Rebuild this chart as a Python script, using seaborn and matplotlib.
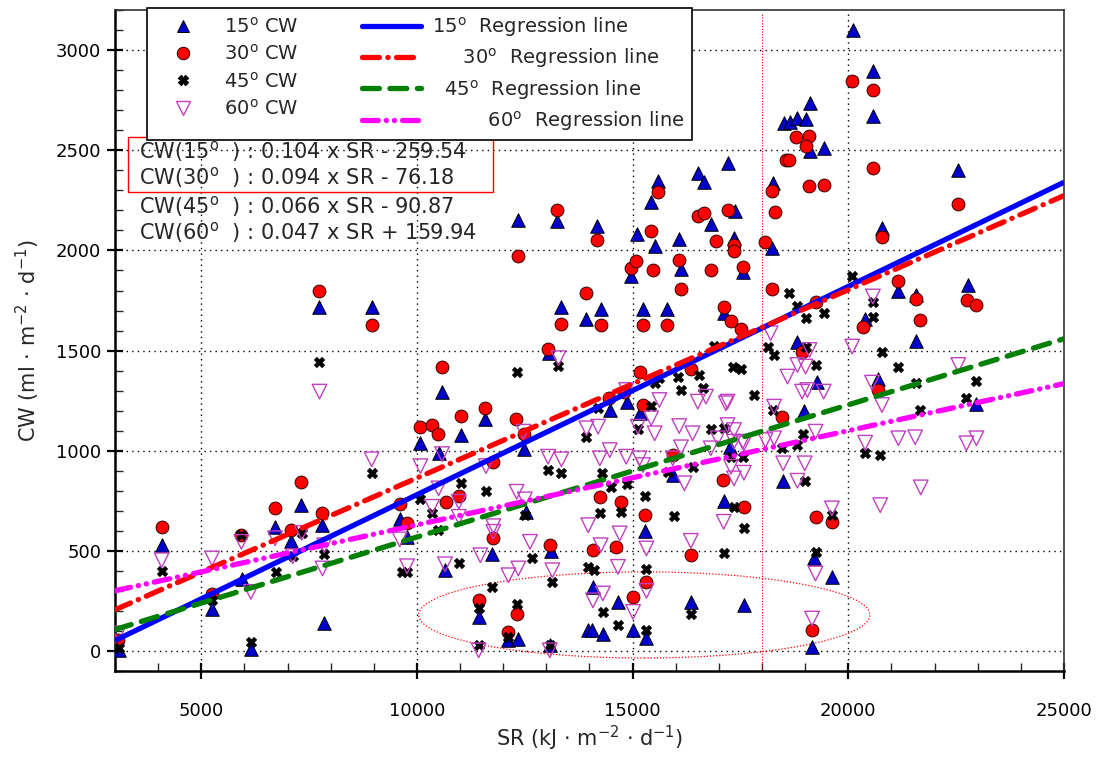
import matplotlib
matplotlib.use("Agg")
import matplotlib.pyplot as plt
from matplotlib.patches import Rectangle, Ellipse
from matplotlib.lines import Line2D
import seaborn as sns
import pandas as pd
import numpy as np

# ---------------- data ----------------
cw15_x = [3100, 4080, 5250, 5950, 6150, 6710, 7090, 7310, 7730, 7810, 7850, 8950, 9600, 9770, 10080, 10500,
          10580, 10650, 11020, 11430, 11580, 11740, 12120, 12350, 12340, 12470, 12530, 13050, 13080, 13100,
          13250, 13350, 13930, 13970, 14050, 14080, 14180, 14260, 14310, 14470, 14650, 14880, 14970, 15010,
          15110, 15160, 15240, 15290, 15320, 15430, 15510, 15580, 15800, 15930, 16080, 16110, 16350, 16510,
          16660, 16810, 17110, 17120, 17200, 17250, 17350, 17370, 17550, 17580, 18240, 18260, 18490, 18510,
          18650, 18820, 19010, 19110, 19110, 19430, 18970, 19280, 18820, 19200, 19160, 19620, 20120, 20390,
          20570, 20570, 20700, 20780, 21160, 21560, 21560, 22550, 22780, 22960]
cw15_y = [5, 530, 210, 360, 12, 620, 550, 730, 1720, 630, 140, 1720, 660, 570, 1040, 990,
          1295, 405, 1080, 170, 1160, 485, 55, 60, 2150, 1010, 695, 1490, 28, 500,
          2145, 1720, 1660, 105, 105, 320, 2120, 1710, 85, 1205, 245, 1245, 1870, 105,
          2080, 1190, 1710, 600, 65, 2240, 2020, 2345, 1710, 880, 2055, 1905, 245, 2385,
          2340, 2130, 750, 1690, 2435, 1020, 2060, 2195, 1890, 230, 2010, 2335, 850, 2635,
          2640, 2660, 2655, 2735, 2495, 2510, 1200, 1345, 1545, 462, 20, 370, 3100, 1660,
          2895, 2670, 1360, 2110, 1800, 1780, 1550, 2400, 1830, 1235]

cw30_x = [3080, 4080, 5250, 5930, 6710, 7090, 7310, 7730, 7810, 8950, 9600, 9770, 10080, 10350, 10490,
          10580, 10680, 10970, 11020, 11430, 11580, 11770, 11770, 12100, 12290, 12310, 12340, 12470, 13040,
          13090, 13250, 13350, 13930, 14080, 14180, 14240, 14260, 14450, 14620, 14720, 14810, 14970, 15010,
          15080, 15160, 15240, 15240, 15290, 15320, 15430, 15470, 15580, 15800, 15930, 16080, 16110, 16350,
          16350, 16510, 16660, 16810, 16930, 17090, 17120, 17290, 17350, 17350, 17510, 17550, 17590, 17200,
          18080, 18240, 18240, 18300, 18470, 18550, 18620, 18780, 19090, 19010, 19090, 19430, 19260, 19260,
          19620, 19160, 18930, 20090, 20570, 20570, 20350, 20700, 20780, 21160, 21560, 21660, 22550, 22750,
          22960]
cw30_y = [55, 620, 287, 578, 715, 603, 842, 1800, 687, 1628, 733, 637, 1120, 1128, 1082,
          1420, 742, 773, 1173, 253, 1215, 945, 562, 95, 1157, 187, 1973, 1082, 1507,
          528, 2200, 1633, 1790, 503, 2053, 770, 1628, 1262, 520, 745, 1295, 1912, 270,
          1945, 1395, 1628, 1228, 678, 345, 2095, 1903, 2290, 1628, 978, 1953, 1807, 1407,
          478, 2173, 2187, 1903, 2045, 853, 1717, 1650, 2028, 1995, 1607, 1917, 717, 2203,
          2040, 1807, 2295, 2190, 1170, 2453, 2450, 2567, 2570, 2523, 2320, 2328, 1745, 667,
          645, 107, 1495, 2845, 2803, 2412, 1620, 1303, 2067, 1845, 1757, 1653, 2233, 1753,
          1728]

cw45_x = [3100, 4080, 5250, 5930, 6150, 6730, 7120, 7330, 7740, 7850, 8950, 9650, 9760, 10080, 10350,
          10490, 10970, 11030, 11430, 11430, 11600, 11740, 12120, 12310, 12310, 12500, 12660, 13080, 13140,
          13280, 13040, 13350, 13930, 13970, 14100, 14200, 14280, 14310, 14510, 14240, 14660, 14720, 14880,
          15280, 15320, 15320, 15120, 15430, 15510, 15620, 15820, 15970, 16050, 16120, 16350, 16390, 16550,
          16620, 16810, 16890, 17110, 17120, 17320, 17510, 17590, 17350, 17280, 17550, 17820, 18130, 18280,
          18250, 18470, 18620, 18800, 18820, 18960, 19010, 18990, 19260, 19430, 19010, 19240, 19620, 20090,
          20390, 20570, 20570, 20740, 20780, 21160, 21560, 21660, 22740, 22960]
cw45_y = [15, 400, 253, 578, 45, 395, 473, 590, 1442, 483, 890, 395, 395, 760, 690,
          603, 440, 837, 30, 215, 798, 320, 70, 1392, 237, 678, 462, 30, 345,
          1423, 903, 890, 1070, 420, 403, 1212, 890, 195, 820, 690, 128, 695, 833,
          773, 407, 107, 1107, 1223, 1337, 1362, 895, 673, 1370, 1303, 183, 920, 1378,
          1312, 1107, 1523, 490, 1112, 1420, 1407, 612, 720, 970, 970, 1278, 1520, 1478,
          1203, 1012, 1790, 1028, 1723, 1083, 1662, 850, 1428, 1690, 1520, 495, 678, 1873,
          990, 1745, 1670, 978, 1495, 1417, 1340, 1203, 1262, 1350]

cw60_x = [3080, 4080, 5250, 5930, 6150, 6710, 7120, 7330, 7740, 7810, 7850, 8950, 9600, 9770, 10080,
          10500, 10580, 10350, 10650, 10970, 10970, 11430, 11470, 11600, 11770, 11770, 12120, 12310, 12350,
          12470, 12500, 12620, 13140, 13080, 13040, 13280, 13350, 13930, 13970, 14200, 14240, 14260, 14080,
          14310, 14470, 14660, 14700, 14850, 14850, 15010, 15120, 15160, 15240, 15320, 15320, 15430, 15510,
          15620, 15930, 16080, 16120, 16200, 16350, 16390, 16510, 16700, 16810, 16970, 17200, 17200, 17350,
          17580, 17280, 17580, 17350, 17110, 17160, 17350, 17550, 18080, 18280, 18200, 18280, 18490, 18590,
          18820, 18820, 18930, 18990, 19010, 19050, 19100, 19240, 19430, 19160, 19240, 19620, 20090, 20390,
          20550, 20570, 20740, 20780, 21160, 21550, 21680, 22550, 22740, 22970]
cw60_y = [88, 453, 462, 545, 295, 563, 473, 590, 1295, 412, 528, 957, 557, 423, 923,
          812, 983, 720, 433, 745, 670, 3, 478, 923, 623, 595, 378, 795, 412,
          1095, 757, 545, 403, 3, 970, 1462, 957, 1112, 628, 1120, 962, 528, 253,
          287, 1003, 420, 587, 970, 1303, 195, 1120, 962, 928, 512, 300, 1162, 1087,
          1253, 962, 1123, 1017, 837, 550, 1087, 1245, 1270, 1012, 1062, 1128, 1245, 1103,
          1037, 920, 890, 862, 645, 1237, 1045, 1045, 1053, 1062, 1587, 1220, 937, 1370,
          850, 1428, 1295, 937, 1420, 1303, 1503, 1095, 1295, 162, 387, 712, 1520, 1040,
          1340, 1770, 728, 1228, 1062, 1067, 817, 1428, 1037, 1062]

angles = ["15", "30", "45", "60"]
slopes = [0.104, 0.094, 0.066, 0.047]
intercepts = [-259.54, -76.18, -90.87, 159.94]
eq_texts = ["CW(15$^{\\rm o}$  ) : 0.104 x SR - 259.54",
            "CW(30$^{\\rm o}$  ) : 0.094 x SR - 76.18",
            "CW(45$^{\\rm o}$  ) : 0.066 x SR - 90.87",
            "CW(60$^{\\rm o}$  ) : 0.047 x SR + 159.94"]
line_x_range = [3000, 25000]

# ---------------- figure ----------------
sns.set_style("white")
plt.rcParams['font.family'] = ['DejaVu Sans']
fig = plt.figure(figsize=(11.06, 7.57), dpi=100)
ax = fig.add_axes([0.104, 0.1136, 0.858, 0.873])

ax.set_xlim(3000, 25000)
ax.set_ylim(-100, 3200)

# reference annotations (behind data)
ax.axvline(18000, ymax=0.995, color="red", lw=0.8, ls=(0, (1, 1.5)), zorder=1)
ax.add_patch(Ellipse((15270, 180), 10460, 430, fill=False, edgecolor="red",
                     lw=0.9, ls=(0, (1, 1.5)), zorder=1))

mk = dict(ax=ax, legend=False, zorder=3)
sns.scatterplot(x=cw15_x, y=cw15_y, marker="^", s=95, color="#0000CC", edgecolor="black", linewidth=0.7, **mk)
sns.scatterplot(x=cw30_x, y=cw30_y, marker="o", s=85, color="#FF0000", edgecolor="#330000", linewidth=0.7, **mk)
sns.scatterplot(x=cw45_x, y=cw45_y, marker="X", s=55, color="black", edgecolor="black", linewidth=0.5, **mk)
sns.scatterplot(x=cw60_x, y=cw60_y, marker="v", s=110, facecolor="none", edgecolor="#C040C0", linewidth=1.0, **mk)

line_colors = ["#0000FF", "#FF0000", "#008000", "#FF00FF"]
line_styles = ["-", (0, (3.2, 1.6, 0.05, 1.6)), (0, (3.2, 2.0)), (0, (3.0, 1.5, 0.05, 1.5, 0.05, 1.5))]
for a, m, b, c, ls in zip(angles, slopes, intercepts, line_colors, line_styles):
    xs = np.array(line_x_range, dtype=float)
    sns.lineplot(x=xs, y=m * xs + b, ax=ax, color=c, lw=3.8, linestyle=ls,
                 solid_capstyle="butt", dash_capstyle="round", zorder=4)

# grid & ticks
ax.set_xticks([5000, 10000, 15000, 20000, 25000])
ax.set_yticks(np.arange(0, 3001, 500))
ax.set_xticks(np.arange(3000, 25001, 1000), minor=True)
ax.set_yticks(np.arange(-100, 3201, 100), minor=True)
ax.grid(True, which="major", color="black", lw=1.0, ls=(0, (1, 3)))
ax.tick_params(axis="both", which="major", direction="inout", length=12, width=1.6,
               labelsize=13, colors="black", bottom=True, left=True)
ax.tick_params(axis="both", which="minor", direction="in", length=6, width=1.0,
               bottom=True, left=True)
ax.tick_params(axis="x", which="major", pad=16)
ax.tick_params(axis="y", which="major", pad=4)
for side in ["left", "bottom"]:
    ax.spines[side].set_color("black")
    ax.spines[side].set_linewidth(1.8)
for side in ["top", "right"]:
    ax.spines[side].set_color("#333333")
    ax.spines[side].set_linewidth(1.2)

ax.set_xlabel("SR (kJ $\\cdot$ m$^{-2}$ $\\cdot$ d$^{-1}$)", fontsize=15, labelpad=3)
ax.set_ylabel("CW (ml $\\cdot$ m$^{-2}$ $\\cdot$ d$^{-1}$)", fontsize=15, labelpad=10)

# equations
eq_y = [2493, 2363, 2218, 2088]
for t, yv in zip(eq_texts, eq_y):
    ax.text(3560, yv, t, fontsize=15, va="center", ha="left", zorder=5)
ax.add_patch(Rectangle((3300, 2293), 11774 - 3300, 2568 - 2293, fill=False,
                       edgecolor="red", lw=1.0, zorder=5))

# legend
handles = [
    Line2D([], [], ls="none", marker="^", ms=9, mfc="#0000CC", mec="black", mew=0.7),
    Line2D([], [], ls="none", marker="o", ms=9, mfc="#FF0000", mec="#330000", mew=0.7),
    Line2D([], [], ls="none", marker="X", ms=7, mfc="black", mec="black"),
    Line2D([], [], ls="none", marker="v", ms=10, mfc="none", mec="#C040C0", mew=1.0),
]
labels = [f"{a}$^{{\\rm o}}$ CW" for a in angles]
for c, ls in zip(line_colors, line_styles):
    handles.append(Line2D([], [], color=c, lw=3.8, ls=ls, dash_capstyle="round"))
lab_pad = ["", "     ", "  ", "         "]
labels += [f"{p}{a}$^{{\\rm o}}$  Regression line" for p, a in zip(lab_pad, angles)]

leg = ax.legend(handles, labels, ncol=2, loc="upper left",
                bbox_to_anchor=(147 / 1106, 1 - 8 / 757), bbox_transform=fig.transFigure,
                fontsize=14, frameon=True, fancybox=False, framealpha=1, edgecolor="black",
                handlelength=3.0, handletextpad=0.6, columnspacing=3.3, labelspacing=0.38,
                borderpad=0.35, borderaxespad=0)
leg.get_frame().set_linewidth(1.2)
leg.set_zorder(10)

fig.savefig("out.png", dpi=100)
